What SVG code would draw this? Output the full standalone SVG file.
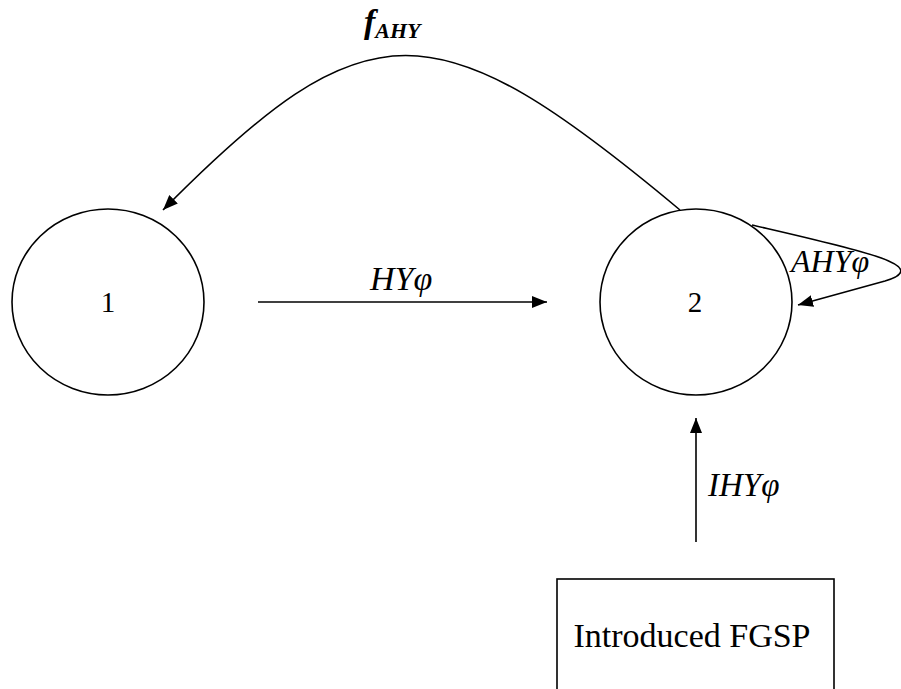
<svg xmlns="http://www.w3.org/2000/svg" width="901" height="689" viewBox="0 0 901 689">
<style>
.shape{fill:#fff;stroke:#000;stroke-width:1.6}
.edge{fill:none;stroke:#000;stroke-width:1.6}
.t{font-family:"Liberation Serif","Times New Roman",serif;fill:#000}
.it{font-style:italic}
</style>
<defs>
<marker id="ah" viewBox="0 0 15 12" refX="15" refY="6" markerWidth="15" markerHeight="12" markerUnits="userSpaceOnUse" orient="auto">
<path d="M0,0 L15,6 L0,12 Z" fill="#000"/>
</marker>
</defs>
<rect width="901" height="689" fill="#fff"/>
<g id="connectors">
<path class="edge" d="M680,210 C434,4 367,4 163,210" marker-end="url(#ah)"/>
<path class="edge" d="M258,302 L547,302" marker-end="url(#ah)"/>
<path class="edge" d="M752,225 C860,250 935,266 885,281 L798,305" marker-end="url(#ah)"/>
<path class="edge" d="M696,542 L696,418" marker-end="url(#ah)"/>
<text class="t it" x="370" y="290" font-size="34">HYφ</text>
<text class="t it" x="791" y="272" font-size="32">AHYφ</text>
<text class="t it" x="708" y="496" font-size="33">IHYφ</text>
<text class="t it" font-weight="bold" x="364" y="33" font-size="34">f<tspan font-size="22" dy="5">AHY</tspan></text>
</g>
<g id="node1">
<ellipse class="shape" cx="108" cy="302" rx="96" ry="93"/>
<text class="t" x="108" y="312" font-size="29" text-anchor="middle">1</text>
</g>
<g id="node2">
<ellipse class="shape" cx="696" cy="302" rx="96" ry="93"/>
<text class="t" x="695" y="312" font-size="29" text-anchor="middle">2</text>
</g>
<g id="introduced">
<rect class="shape" x="557" y="579" width="277" height="130"/>
<text class="t" x="692" y="647" font-size="34" text-anchor="middle">Introduced FGSP</text>
</g>
</svg>
